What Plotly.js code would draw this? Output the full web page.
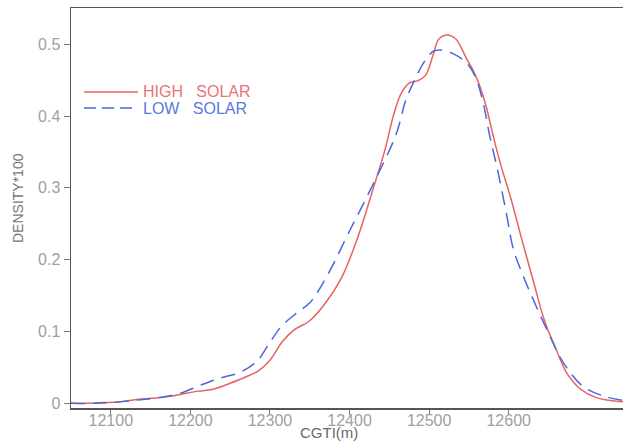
<!DOCTYPE html>
<html>
<head>
<meta charset="utf-8">
<script src="https://cdn.plot.ly/plotly-3.0.1.min.js"></script>
<style>html,body{margin:0;padding:0;background:#fff;}#chart{width:623px;height:442px;}</style>
</head>
<body>
<div id="chart"></div>
<script>
// HIGH SOLAR density (x = CGTI in m, y = density*100)
const highX = [12050,12070,12090,12110,12130,12150,12170,12190,12210,12230,12250,12270,12285,12300,12315,12330,12350,12370,12390,12410,12430,12445,12455,12465,12475,12485,12495,12505,12512,12522,12533,12547,12556,12564,12572,12581,12590,12602,12618,12631,12645,12660,12673,12690,12710,12744];
const highY = [0.000,0.000,0.001,0.002,0.005,0.007,0.009,0.013,0.017,0.020,0.028,0.037,0.045,0.060,0.085,0.102,0.115,0.140,0.175,0.230,0.300,0.355,0.400,0.432,0.446,0.449,0.456,0.485,0.507,0.513,0.508,0.480,0.462,0.441,0.412,0.370,0.332,0.288,0.222,0.170,0.115,0.074,0.042,0.020,0.008,0.002];

// LOW SOLAR density
const lowX = [12050,12080,12100,12120,12137,12160,12187,12212,12237,12262,12283,12300,12315,12335,12350,12371,12400,12430,12459,12470,12480,12493,12505,12514,12530,12547,12558,12568,12576,12585,12597,12606,12618,12631,12652,12669,12694,12723,12744];
const lowY = [0.000,0.000,0.001,0.003,0.005,0.008,0.014,0.025,0.035,0.043,0.058,0.085,0.108,0.127,0.140,0.176,0.240,0.306,0.376,0.420,0.446,0.474,0.490,0.492,0.487,0.474,0.455,0.418,0.373,0.330,0.265,0.214,0.178,0.144,0.093,0.056,0.023,0.009,0.004];

const xTicks = [12100,12200,12300,12400,12500,12600];
const yTicks = [0,0.1,0.2,0.3,0.4,0.5];
const yTickText = ['0','0.1','0.2','0.3','0.4','0.5'];
const seriesNames = ['HIGH SOLAR','LOW SOLAR'];

const RED = '#e8625f';
const BLUE = '#4b67df';
const FONT = 'Liberation Sans, Arial, sans-serif';
const NARROW = 'Liberation Sans Narrow, Liberation Sans, Arial, sans-serif';

const traces = [
  {x: highX, y: highY, type: 'scatter', mode: 'lines', name: seriesNames[0],
   line: {color: RED, width: 1.5, shape: 'spline', smoothing: 1}},
  {x: lowX, y: lowY, type: 'scatter', mode: 'lines', name: seriesNames[1],
   line: {color: BLUE, width: 1.5, shape: 'spline', smoothing: 1, dash: '14px,8px'}}
];

const legendText = s => s.replace(/ /g, '&nbsp;&nbsp;&nbsp;');

const layout = {
  width: 623, height: 442,
  margin: {l: 71, r: 0, t: 8, b: 34, pad: 0},
  paper_bgcolor: '#fff', plot_bgcolor: '#fff',
  showlegend: false,
  font: {family: FONT, color: '#999'},
  xaxis: {
    range: [12050, 12743.6], tickvals: xTicks, ticktext: xTicks.map(String),
    showgrid: false, zeroline: false, showline: true, mirror: true,
    linecolor: '#555', linewidth: 1.5,
    ticks: 'outside', ticklen: 5, tickcolor: '#777', tickwidth: 1,
    ticklabelstandoff: -8,
    tickfont: {family: FONT, size: 16, color: '#a0a0a0'}
  },
  yaxis: {
    range: [-0.0065, 0.5505], tickvals: yTicks, ticktext: yTickText,
    showgrid: false, zeroline: false, showline: true,
    linecolor: '#555', linewidth: 1.5,
    ticks: 'outside', ticklen: 6, tickcolor: '#777', tickwidth: 1,
    tickfont: {family: FONT, size: 16, color: '#a0a0a0'}
  },
  shapes: [
    {type: 'line', xref: 'paper', yref: 'paper', x0: (84-71)/552, x1: (138-71)/552,
     y0: (408-92)/400, y1: (408-92)/400, line: {color: RED, width: 1.5}},
    {type: 'line', xref: 'paper', yref: 'paper', x0: (84-71)/552, x1: (138-71)/552,
     y0: (408-108)/400, y1: (408-108)/400, line: {color: BLUE, width: 1.5, dash: '12px,6px'}}
  ],
  annotations: [
    {xref: 'paper', yref: 'paper', x: (141-71)/552, y: (408-92)/400, xanchor: 'left', yanchor: 'middle',
     text: legendText(seriesNames[0]), showarrow: false, font: {family: FONT, size: 16, color: '#e87574'}},
    {xref: 'paper', yref: 'paper', x: (141-71)/552, y: (408-108)/400, xanchor: 'left', yanchor: 'middle',
     text: legendText(seriesNames[1]), showarrow: false, font: {family: FONT, size: 16, color: '#5b78e2'}},
    {xref: 'paper', yref: 'paper', x: (329-71)/552, y: (408-442)/400, xanchor: 'center', yanchor: 'bottom',
     text: 'CGTI(m)', showarrow: false, borderpad: 0, font: {family: FONT, size: 15, color: '#6a6a6a'}},
    {xref: 'paper', yref: 'paper', x: (18-71)/552, y: (408-198)/400, xanchor: 'center', yanchor: 'middle',
     text: 'DENSITY*100', textangle: -90, showarrow: false, font: {family: NARROW, size: 14, color: '#777'}}
  ]
};

Plotly.newPlot('chart', traces, layout, {staticPlot: true, displayModeBar: false});
</script>
</body>
</html>
